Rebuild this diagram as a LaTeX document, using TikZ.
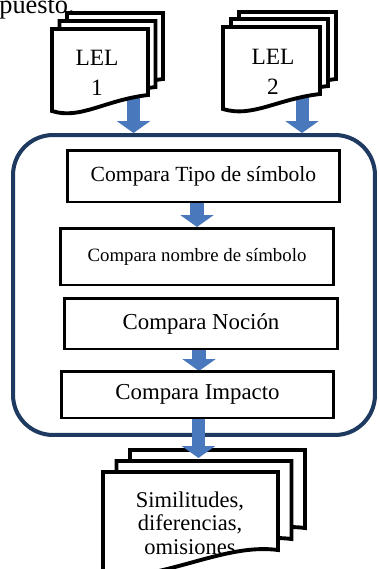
\documentclass[tikz,border=0pt]{standalone}
\usepackage{fontspec}
\setmainfont{Liberation Serif}
\usetikzlibrary{arrows.meta}
\definecolor{framenavy}{HTML}{1F3A60}
\definecolor{arrowblue}{HTML}{4A78BD}

\begin{document}
\begin{tikzpicture}[x=0.02cm,y=-0.02cm,
  page/.style={draw=black,fill=white,line width=2.2pt},
  cmpbox/.style={draw=black,fill=white,line width=1.7pt,minimum width=5.46cm,inner sep=0pt},
  doctext/.style={align=center,inner sep=0pt,font=\fontsize{13.3}{17}\selectfont},
  blockarrow/.style={draw=arrowblue,line width=7.4pt,-{Triangle[width=18.7pt,length=6.8pt]}}]
\useasboundingbox (0,0) rectangle (379,569);

\node[anchor=base west,inner sep=0pt,font=\fontsize{15}{18}\selectfont] (intro) at (-1,13) {puesto.};

% outer frame
\node[draw=framenavy,line width=2.3pt,rounded corners=0.8cm,minimum width=7.24cm,minimum height=6cm] (frame) at (194,285) {};

% arrows out of the two lexicons
\coordinate (lel1tip) at (133.5,90);
\coordinate (lel2tip) at (302,90);
\draw[blockarrow] (lel1tip) -- (lel1tip |- frame.north);
\draw[blockarrow] (lel2tip) -- (lel2tip |- frame.north);

% stacked pages
\foreach \dx/\dy in {15/16,7.5/8,0/0}
  \draw[page] (52+\dx,111-\dy) -- (52+\dx,29-\dy) -- (148+\dx,29-\dy) -- (148+\dx,95-\dy)
    .. controls (105+\dx,100-\dy) and (80+\dx,120-\dy) .. (52+\dx,111-\dy) -- cycle;
\foreach \dx/\dy in {16/15,8/8,0/0}
  \draw[page] (223+\dx,109-\dy) -- (223+\dx,27-\dy) -- (320+\dx,27-\dy) -- (320+\dx,94-\dy)
    .. controls (277+\dx,99-\dy) and (252+\dx,118-\dy) .. (223+\dx,109-\dy) -- cycle;
\node[doctext] (lel1) at (97,73) {LEL\\1};
\node[doctext] (lel2) at (273,72) {LEL\\2};

% comparison steps
\coordinate (gap1) at (197,215);
\coordinate (gap3) at (199,360);
\draw[blockarrow] (gap1 |- 0,202) -- (gap1 |- 0,227);
\draw[blockarrow] (gap3 |- 0,349) -- (gap3 |- 0,371);
\node[cmpbox,minimum height=1.04cm,font=\fontsize{12.3}{14}\selectfont] (tipo) at (203.5,176) {Compara Tipo de símbolo};
\node[cmpbox,minimum width=5.48cm,minimum height=1.14cm,font=\fontsize{10.7}{13}\selectfont] (nombre) at (197,256.5) {Compara nombre de símbolo};
\node[cmpbox,minimum height=1.02cm,font=\fontsize{13}{15}\selectfont] (nocion) at (201,323.5) {Compara Noción};
\node[cmpbox,minimum height=0.94cm,font=\fontsize{13}{15}\selectfont] (impacto) at (197.5,394.5) {Compara Impacto};

% result
\foreach \dx/\dy in {27/22,13.5/11,0/0}
  \draw[page] (103+\dx,578-\dy) -- (103+\dx,472-\dy) -- (278+\dx,472-\dy) -- (278+\dx,550-\dy)
    .. controls (225+\dx,543-\dy) and (170+\dx,578-\dy) .. (103+\dx,578-\dy) -- cycle;
\node[doctext,font=\fontsize{12.8}{13.4}\selectfont] (result) at (190,523) {Similitudes,\\diferencias,\\omisiones};
\coordinate (outtip) at (198.5,458);
\draw[blockarrow] (impacto.south -| outtip) -- (outtip);
\end{tikzpicture}
\end{document}
